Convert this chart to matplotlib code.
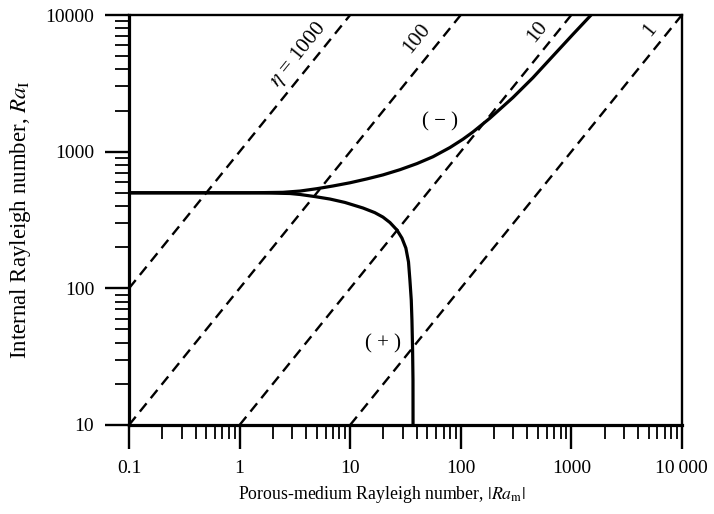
import matplotlib
matplotlib.use("Agg")
import matplotlib.pyplot as plt
from matplotlib.ticker import LogLocator, NullFormatter, FixedLocator

plt.rcParams["font.family"] = ["Liberation Serif", "DejaVu Serif"]
plt.rcParams["mathtext.fontset"] = "stix"

# dashed lines Ra_I = eta * |Ra_m|, given by their end points
eta_labels = ["$\\eta$ = 1000", "100", "10", "1"]
eta_x = [[0.1, 10], [0.1, 100], [1, 1000], [10, 10000]]
eta_y = [[100, 10000], [10, 10000], [10, 10000], [10, 10000]]

# (-) branch
minus_x = [0.1, 0.3, 1.0, 1.24, 2.47, 3.52, 5.01, 7.0, 9.96, 14.2, 19.8, 28.2, 40.2, 56.1,
           79.9, 104.7, 128.9, 183.6, 296.5, 449.5, 682, 1033, 1510]
minus_y = [500, 500, 500, 500, 504, 515, 536, 561, 592, 632, 676, 738, 818, 918,
           1072, 1233, 1393, 1758, 2489, 3475, 5012, 7211, 10000]

# (+) branch
plus_x = [0.1, 0.5, 1.24, 1.88, 2.86, 3.52, 4.81, 6.57, 8.97, 13.06, 16.7, 19.8, 22.9,
          26.5, 29.4, 31.9, 33.7, 34.7, 35.7, 36.2, 36.7, 37.0, 37.05]
plus_y = [500, 500, 500, 498, 494, 486, 469, 450, 425, 387, 358, 332, 303,
          267, 233, 197, 156, 115, 82, 58.6, 35.4, 21.3, 10]

fig = plt.figure(figsize=(7.14, 5.14), dpi=100)
ax = fig.add_axes([0.1807, 0.1732, 0.7743, 0.7976])

for xs, ys in zip(eta_x, eta_y):
    ax.plot(xs, ys, color="black", lw=1.7, ls=(0, (4.5, 2.8)))

ax.plot(minus_x, minus_y, color="black", lw=2.3, solid_joinstyle="round")
ax.plot(plus_x, plus_y, color="black", lw=2.3, solid_joinstyle="round")

ax.set_xscale("log")
ax.set_yscale("log")
ax.set_xlim(0.1, 10000)
ax.set_ylim(10, 10000)

# labels along the dashed lines
label_pos = [(3.38, 5094), (40.2, 6776), (499, 7499), (5140, 7762)]
for txt, (lx, ly) in zip(eta_labels, label_pos):
    ax.text(lx, ly, txt, rotation=51, ha="center", va="center", fontsize=15.5)

ax.text(64.9, 1648, "( \u2212 )", ha="center", va="center", fontsize=15)
ax.text(19.8, 39.2, "( + )", ha="center", va="center", fontsize=15)

ax.xaxis.set_major_locator(FixedLocator([0.1, 1, 10, 100, 1000, 10000]))
ax.set_xticklabels(["0.1", "1", "10", "100", "1000", "10\u2009000"])
ax.yaxis.set_major_locator(FixedLocator([10, 100, 1000, 10000]))
ax.set_yticklabels(["10", "100", "1000", "10000"])
ax.xaxis.set_minor_locator(LogLocator(base=10, subs=range(2, 10), numticks=20))
ax.yaxis.set_minor_locator(LogLocator(base=10, subs=range(2, 10), numticks=20))
ax.xaxis.set_minor_formatter(NullFormatter())
ax.yaxis.set_minor_formatter(NullFormatter())

ax.tick_params(which="major", direction="out", length=17, width=1.7, labelsize=14, pad=8)
ax.tick_params(which="minor", direction="out", length=10, width=1.3)
ax.tick_params(top=False, right=False, which="both")

for side in ["left", "bottom"]:
    ax.spines[side].set_linewidth(2.3)
for side in ["top", "right"]:
    ax.spines[side].set_linewidth(1.7)

ax.set_xlabel("Porous-medium Rayleigh number, $|Ra_{\\mathrm{m}}|$", fontsize=12.8, labelpad=10)
ax.xaxis.set_label_coords(0.457, -0.145)
ax.set_ylabel("Internal Rayleigh number, $Ra_{\\mathrm{I}}$", fontsize=16.5, labelpad=9)

fig.savefig("out.png", dpi=100)
